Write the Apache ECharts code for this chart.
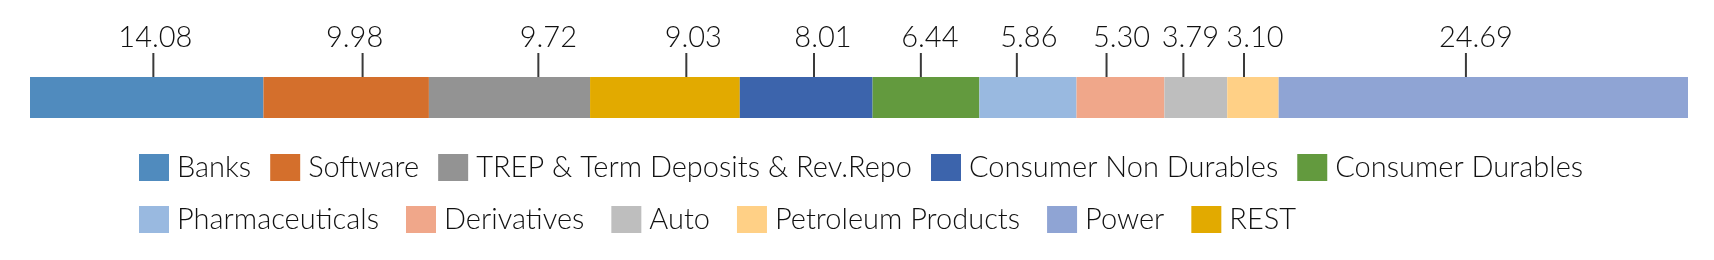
<!DOCTYPE html>
<html>
<head>
<meta charset="utf-8">
<script src="https://cdn.jsdelivr.net/npm/echarts@6/dist/echarts.min.js"></script>
<style>
  html, body {margin: 0; padding: 0; background: #fff;}
  #chart {width: 1714px; height: 260px;}
</style>
</head>
<body>
<div id="chart"></div>
<script>
// segments in the order they sit in the bar, left to right
const sectors = ['Banks', 'Software', 'TREP & Term Deposits & Rev.Repo', 'REST', 'Consumer Non Durables',
  'Consumer Durables', 'Pharmaceuticals', 'Derivatives', 'Auto', 'Petroleum Products', 'Power'];
const weights = [14.08, 9.98, 9.72, 9.03, 8.01, 6.44, 5.86, 5.30, 3.79, 3.10, 24.69];
const colors = ['#508BBE', '#D46F2C', '#939393', '#E2AA00', '#3C64AC',
  '#639A3E', '#99B9E0', '#F0A78A', '#BEBEBE', '#FFD086', '#8FA4D4'];

const legendRow1 = ['Banks', 'Software', 'TREP & Term Deposits & Rev.Repo', 'Consumer Non Durables', 'Consumer Durables'];
const legendRow2 = ['Pharmaceuticals', 'Derivatives', 'Auto', 'Petroleum Products', 'Power', 'REST'];

// callouts are not exactly centred on their segment
const tickShift = [0.40, 0.99, 1.74, 1.29, 0.47, -0.31, -0.67, -0.84, -0.75, -0.54, -1.05]; // axis units
const textShift = [2, -8, 10, 7, 9, 9, 12, 15, 7, 11, 10]; // px

const fontFamily = 'Lato, "Noto Sans", sans-serif';

let chart = echarts.init(document.getElementById('chart'));

let start = 0;
const callouts = weights.map((w, i) => {
  const mid = start + w / 2 + tickShift[i];
  start += w;
  return [mid, 0, i];
});

const barSeries = sectors.map((name, i) => ({
  name: name,
  type: 'bar',
  stack: 'total',
  barWidth: '100%',
  barCategoryGap: '0%',
  itemStyle: {color: colors[i]},
  emphasis: {disabled: true},
  data: [weights[i]]
}));

const legendBase = {
  left: 139,
  padding: 0,
  itemWidth: 30,
  itemHeight: 27,
  icon: 'rect',
  selectedMode: false,
  textStyle: {fontFamily: fontFamily, fontWeight: 300, fontSize: 29, color: '#111', padding: [0, 0, 0, 3]}
};

let option = {
  animation: false,
  grid: {left: 30, right: 26, top: 77, height: 41},
  xAxis: {type: 'value', min: 0, max: 100, show: false},
  yAxis: {type: 'category', data: ['weight'], show: false},
  legend: [
    Object.assign({}, legendBase, {data: legendRow1, top: 153, itemGap: 19}),
    Object.assign({}, legendBase, {data: legendRow2, top: 205, itemGap: 27})
  ],
  series: barSeries.concat([{
    type: 'custom',
    silent: true,
    z: 10,
    data: callouts,
    renderItem: function (params, api) {
      const i = api.value(2);
      const pt = api.coord([api.value(0), 0]);
      const h = api.size([0, 1])[1];
      const top = pt[1] - h / 2;
      return {
        type: 'group',
        children: [
          {
            type: 'line',
            shape: {x1: pt[0], y1: top - 24, x2: pt[0], y2: top},
            style: {stroke: '#3a3a3a', lineWidth: 2}
          },
          {
            type: 'text',
            x: pt[0] + textShift[i],
            y: top - 39,
            style: {
              text: weights[i].toFixed(2),
              fill: '#111',
              font: '300 29px ' + fontFamily,
              align: 'center',
              verticalAlign: 'middle'
            }
          }
        ]
      };
    }
  }])
};

chart.setOption(option);
</script>
</body>
</html>
